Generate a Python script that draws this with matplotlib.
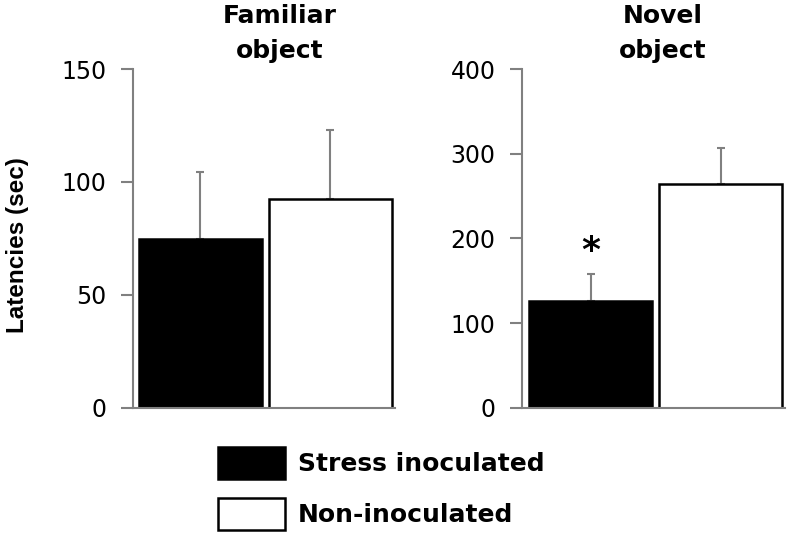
import matplotlib
matplotlib.use('Agg')
import matplotlib.pyplot as plt
from matplotlib.patches import Patch

plt.rcParams['font.family'] = 'DejaVu Sans'

groups = ['Stress inoculated', 'Non-inoculated']
colors = ['black', 'white']

familiar_means = [74.5, 92.5]
familiar_sem = [30, 30.5]
novel_means = [126, 264]
novel_sem = [32, 43]

fig = plt.figure(figsize=(7.87, 5.35), dpi=100)
ax1 = fig.add_axes([0.169, 0.238, 0.333, 0.633])
ax2 = fig.add_axes([0.663, 0.238, 0.334, 0.633])

gray = '#808080'

def draw_panel(ax, means, sems, title, ymax, yticks, title_x):
    x = [0, 1]
    ax.bar(x, means, width=0.945, color=colors, edgecolor='black', linewidth=1.8, zorder=2)
    ax.errorbar(x, means, yerr=[[0, 0], sems], fmt='none', ecolor=gray,
                elinewidth=1.5, capsize=3.2, capthick=1.5, zorder=1)
    ax.set_xlim(-0.52, 1.5)
    ax.set_ylim(0, ymax)
    ax.set_yticks(yticks)
    ax.set_xticks([])
    for s in ['top', 'right']:
        ax.spines[s].set_visible(False)
    for s in ['left', 'bottom']:
        ax.spines[s].set_color(gray)
        ax.spines[s].set_linewidth(1.5)
    ax.tick_params(axis='y', length=9, width=1.5, color=gray, labelsize=17, pad=10)
    ax.set_title(title, fontsize=18, fontweight='bold', linespacing=1.6, pad=8, x=title_x)

draw_panel(ax1, familiar_means, familiar_sem, 'Familiar\nobject', 150, [0, 50, 100, 150], 0.561)
draw_panel(ax2, novel_means, novel_sem, 'Novel\nobject', 400, [0, 100, 200, 300, 400], 0.537)
ax2.set_xlim(-0.53, 1.49)

# significance mark
ax2.text(0, novel_means[0] + novel_sem[0] + 27, '*', ha='center', va='center',
         fontsize=26, fontweight='bold')

fig.text(0.022, 0.542, 'Latencies (sec)', rotation=90, ha='center', va='center',
         fontsize=17.5, fontweight='bold', family='Liberation Sans')

handles = [Patch(facecolor=c, edgecolor='black', linewidth=1.8) for c in colors]
fig.legend(handles, groups, loc='upper left', bbox_to_anchor=(218 / 787, 1 - 447 / 535),
           frameon=False, prop={'size': 18, 'weight': 'bold'}, handlelength=2.68,
           handleheight=1.6, labelspacing=0.75, handletextpad=0.52, borderpad=0,
           borderaxespad=0)

fig.savefig('out.png', dpi=100)
